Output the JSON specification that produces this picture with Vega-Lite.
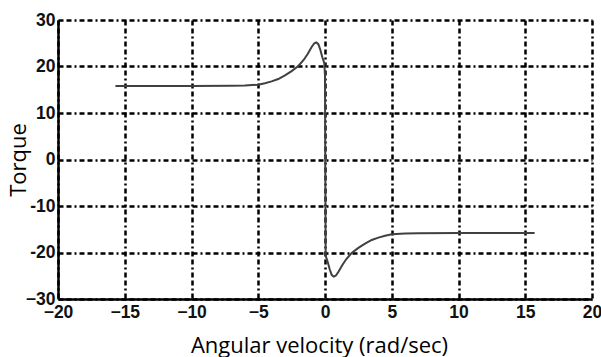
{
  "$schema": "https://vega.github.io/schema/vega-lite/v6.json",
  "autosize": "none",
  "width": 534,
  "height": 279,
  "padding": {"left": 58, "top": 20, "right": 9, "bottom": 58},
  "background": "white",
  "config": {"view": {"stroke": null}},
  "data": {"values": [
    {"w": -15.7, "t": 15.8},
    {"w": -10, "t": 15.8},
    {"w": -7, "t": 15.85},
    {"w": -6, "t": 15.9},
    {"w": -5, "t": 16.1},
    {"w": -4.5, "t": 16.4},
    {"w": -4, "t": 16.8},
    {"w": -3.5, "t": 17.3},
    {"w": -3, "t": 18.1},
    {"w": -2.5, "t": 19.0},
    {"w": -2, "t": 20.1},
    {"w": -1.6, "t": 21.4},
    {"w": -1.3, "t": 22.7},
    {"w": -1.0, "t": 24.2},
    {"w": -0.8, "t": 25.0},
    {"w": -0.65, "t": 25.2},
    {"w": -0.5, "t": 24.8},
    {"w": -0.35, "t": 23.6},
    {"w": -0.2, "t": 22.0},
    {"w": -0.05, "t": 20.7},
    {"w": 0, "t": 18},
    {"w": 0.02, "t": 0},
    {"w": 0.05, "t": -20.7},
    {"w": 0.2, "t": -22.0},
    {"w": 0.35, "t": -23.6},
    {"w": 0.5, "t": -24.8},
    {"w": 0.65, "t": -25.2},
    {"w": 0.8, "t": -25.0},
    {"w": 1.0, "t": -24.2},
    {"w": 1.3, "t": -22.7},
    {"w": 1.6, "t": -21.4},
    {"w": 2, "t": -20.1},
    {"w": 2.5, "t": -19.0},
    {"w": 3, "t": -18.1},
    {"w": 3.5, "t": -17.3},
    {"w": 4, "t": -16.8},
    {"w": 4.5, "t": -16.4},
    {"w": 5, "t": -16.1},
    {"w": 6, "t": -15.9},
    {"w": 7, "t": -15.85},
    {"w": 10, "t": -15.8},
    {"w": 15.7, "t": -15.8}
  ]},
  "mark": {"type": "line", "color": "#404040", "strokeWidth": 2, "clip": true},
  "encoding": {
    "x": {
      "field": "w", "type": "quantitative",
      "scale": {"domain": [-20, 20], "nice": false, "zero": false},
      "axis": {
        "values": [-20, -15, -10, -5, 0, 5, 10, 15, 20],
        "title": "Angular velocity (rad/sec)",
        "titleFont": "Open Sans", "titleFontSize": 22, "titleFontWeight": "normal", "titleColor": "black",
        "titleX": 261, "titleY": 53, "titleBaseline": "alphabetic", "titleAlign": "center",
        "labelFont": "Liberation Sans", "labelFontSize": 17.5, "labelFontWeight": "bold", "labelColor": "#111",
        "labelPadding": 4, "labelFlush": false,
        "ticks": false, "tickSize": 0,
        "domain": true, "domainColor": "black", "domainWidth": 2.5,
        "grid": true, "gridColor": "black", "gridWidth": 2.5, "gridDash": [5, 3, 5, 3, 2, 3], "gridOpacity": 1
      }
    },
    "y": {
      "field": "t", "type": "quantitative",
      "scale": {"domain": [-30, 30], "nice": false, "zero": false},
      "axis": {
        "values": [-30, -20, -10, 0, 10, 20, 30],
        "labelExpr": "datum.value == -30 ? '−30' : replace(datum.label, '−', '-')",
        "title": "Torque",
        "titleFont": "Open Sans", "titleFontSize": 22, "titleFontWeight": "normal", "titleColor": "black",
        "titleX": -33, "titleBaseline": "alphabetic",
        "labelFont": "Liberation Sans", "labelFontSize": 17.5, "labelFontWeight": "bold", "labelColor": "#111",
        "labelPadding": 3, "labelFlush": false,
        "ticks": false, "tickSize": 0,
        "domain": true, "domainColor": "black", "domainWidth": 2.5,
        "grid": true, "gridColor": "black", "gridWidth": 2.5, "gridDash": [5, 3, 5, 3, 2, 3], "gridOpacity": 1
      }
    }
  }
}
